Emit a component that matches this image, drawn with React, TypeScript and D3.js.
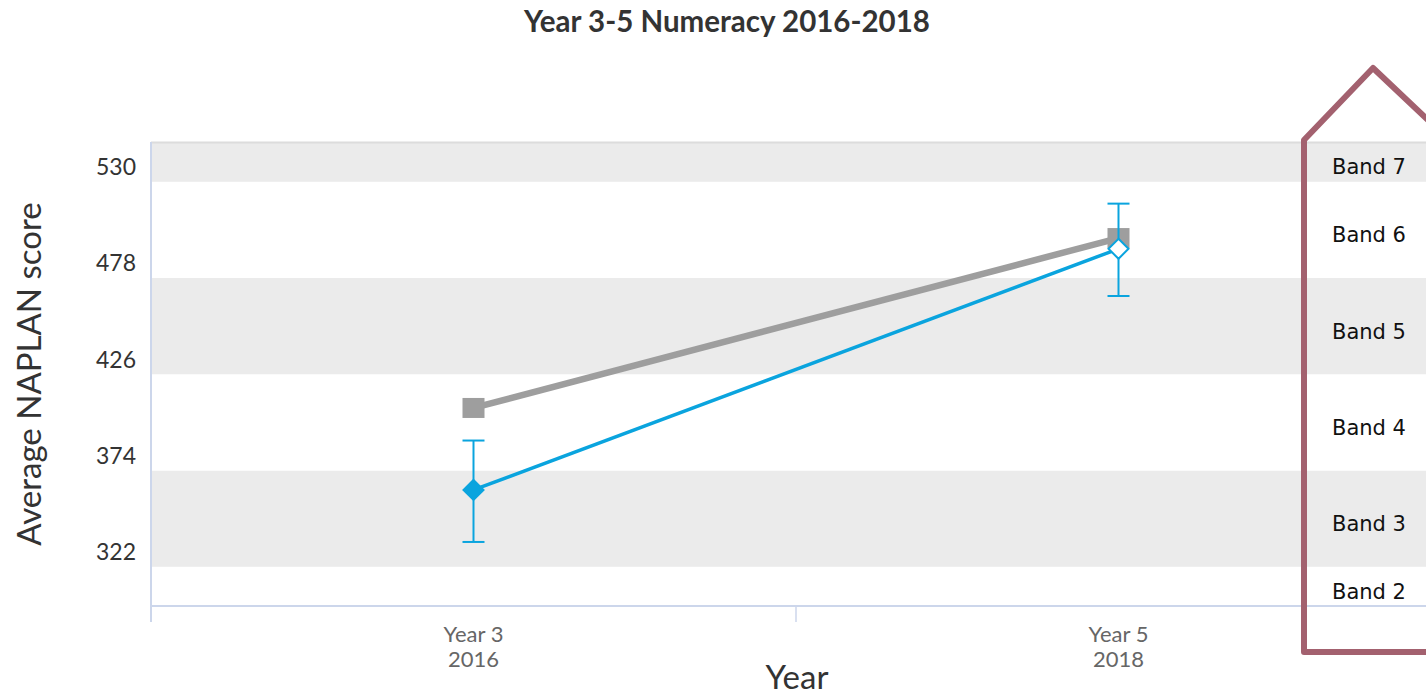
import React, { useRef, useEffect } from "react";
import * as d3 from "d3";

const categories = ["Year 3", "Year 5"];
const catYears = ["2016", "2018"];
const schoolValues = [355.5, 485.8];
const schoolLow = [327.4, 460.3];
const schoolHigh = [382.2, 510.2];
const stateValues = [399.8, 491.6];
const yTicks = [322, 374, 426, 478, 530];
const bandNames = ["Band 2", "Band 3", "Band 4", "Band 5", "Band 6", "Band 7"];
const bandEdges = [292.8, 314, 366, 418, 470, 522, 543.5];

const W = 1426;
const H = 698;

export default function App() {
  const svgRef = useRef<SVGSVGElement>(null);

  useEffect(() => {
    const svg = d3.select(svgRef.current);
    svg.selectAll("*").remove();

    const left = 151, right = 1441, top = 142, bottom = 606;
    const x = d3.scaleBand().domain(categories).range([left, right]).padding(0);
    const cx = (c: string) => (x(c) || 0) + x.bandwidth() / 2;
    const y = d3.scaleLinear().domain([bandEdges[0], bandEdges[bandEdges.length - 1]]).range([bottom, top]);

    // alternating plot bands
    const bands = bandNames.map((name, i) => ({ name, lo: bandEdges[i], hi: bandEdges[i + 1], grey: i % 2 === 1 }));
    svg.append("g").selectAll("rect").data(bands).enter().append("rect")
      .attr("x", left).attr("width", right - left)
      .attr("y", (d) => y(d.hi)).attr("height", (d) => y(d.lo) - y(d.hi))
      .attr("fill", (d) => (d.grey ? "#ebebeb" : "#ffffff"));

    // top border
    svg.append("line").attr("x1", left).attr("x2", right).attr("y1", top + 0.5).attr("y2", top + 0.5)
      .attr("stroke", "#dcdcdc").attr("stroke-width", 2);

    // axes lines
    svg.append("line").attr("x1", left).attr("x2", left).attr("y1", top).attr("y2", bottom + 16)
      .attr("stroke", "#ccd6eb").attr("stroke-width", 2);
    svg.append("line").attr("x1", left).attr("x2", right).attr("y1", bottom).attr("y2", bottom)
      .attr("stroke", "#ccd6eb").attr("stroke-width", 2);
    svg.append("g").selectAll("line").data([left, (left + right) / 2, right]).enter().append("line")
      .attr("x1", (d) => d).attr("x2", (d) => d).attr("y1", bottom).attr("y2", bottom + 16)
      .attr("stroke", "#ccd6eb").attr("stroke-width", 1.5);

    // y tick labels
    svg.append("g").selectAll("text").data(yTicks).enter().append("text")
      .attr("x", 136).attr("y", (d) => y(d)).attr("dy", "0.35em")
      .attr("text-anchor", "end").attr("font-family", "Lato, sans-serif").attr("font-size", 23)
      .attr("fill", "#333").text((d) => d);

    // x tick labels
    const xl = svg.append("g").selectAll("text").data(categories).enter().append("text")
      .attr("text-anchor", "middle").attr("font-family", "Lato, sans-serif").attr("font-size", 22)
      .attr("fill", "#666");
    xl.append("tspan").attr("x", (d) => cx(d)).attr("y", 642).text((d) => d);
    xl.append("tspan").attr("x", (d) => cx(d)).attr("y", 667).text((d, i) => catYears[i]);

    // axis titles
    svg.append("text").attr("x", 797).attr("y", 689).attr("text-anchor", "middle")
      .attr("font-family", "Lato, sans-serif").attr("font-size", 33).attr("fill", "#333").text("Year");
    svg.append("text").attr("transform", `translate(41,${(top + bottom) / 2}) rotate(-90)`)
      .attr("text-anchor", "middle").attr("font-family", "Lato, sans-serif").attr("font-size", 33)
      .attr("fill", "#333").text("Average NAPLAN score");

    // title
    svg.append("text").attr("x", 727).attr("y", 32).attr("text-anchor", "middle")
      .attr("font-family", "Lato, sans-serif").attr("font-weight", "bold").attr("font-size", 29.5)
      .attr("fill", "#333").text("Year 3-5 Numeracy 2016-2018");

    // state line (grey)
    const line = d3.line<number>().x((d, i) => cx(categories[i])).y((d) => y(d));
    svg.append("path").datum(stateValues).attr("d", line).attr("fill", "none")
      .attr("stroke", "#9e9e9e").attr("stroke-width", 6.5);
    svg.append("g").selectAll("rect").data(stateValues).enter().append("rect")
      .attr("x", (d, i) => cx(categories[i]) - 11).attr("y", (d) => y(d) - 10)
      .attr("width", 22).attr("height", 20).attr("fill", "#9e9e9e");

    // school line (blue)
    const blue = "#0aa4de";
    svg.append("path").datum(schoolValues).attr("d", line).attr("fill", "none")
      .attr("stroke", blue).attr("stroke-width", 3.5);

    // error bars
    const eb = svg.append("g").attr("stroke", blue).attr("stroke-width", 2);
    categories.forEach((c, i) => {
      const px = cx(c);
      eb.append("line").attr("x1", px).attr("x2", px).attr("y1", y(schoolHigh[i])).attr("y2", y(schoolLow[i]));
      eb.append("line").attr("x1", px - 11).attr("x2", px + 11).attr("y1", y(schoolHigh[i])).attr("y2", y(schoolHigh[i]));
      eb.append("line").attr("x1", px - 11).attr("x2", px + 11).attr("y1", y(schoolLow[i])).attr("y2", y(schoolLow[i]));
    });

    // diamonds
    const diamond = (px: number, py: number, r: number) =>
      `M${px},${py - r}L${px + r},${py}L${px},${py + r}L${px - r},${py}Z`;
    svg.append("g").selectAll("path").data(schoolValues).enter().append("path")
      .attr("d", (d, i) => diamond(cx(categories[i]), y(d), 10))
      .attr("fill", (d, i) => (i === 0 ? blue : "#ffffff"))
      .attr("stroke", blue).attr("stroke-width", 2);

    // band labels
    svg.append("g").selectAll("text").data(bands).enter().append("text")
      .attr("x", 1369).attr("y", (d) => (y(d.lo) + y(d.hi)) / 2 + 5).attr("dy", "0.35em")
      .attr("text-anchor", "middle").attr("font-family", "'DejaVu Sans', sans-serif").attr("font-size", 21)
      .attr("fill", "#111").text((d) => d.name);

    // highlight outline around band labels
    svg.append("path")
      .attr("d", "M1430,122L1373,68L1304,140L1304,652L1430,652")
      .attr("fill", "none").attr("stroke", "#a3616f").attr("stroke-width", 6)
      .attr("stroke-linejoin", "round");
  }, []);

  return (
    <svg
      ref={svgRef}
      width={W}
      height={H}
      style={{ position: "absolute", left: 0, top: 0, background: "#fff" }}
    />
  );
}
